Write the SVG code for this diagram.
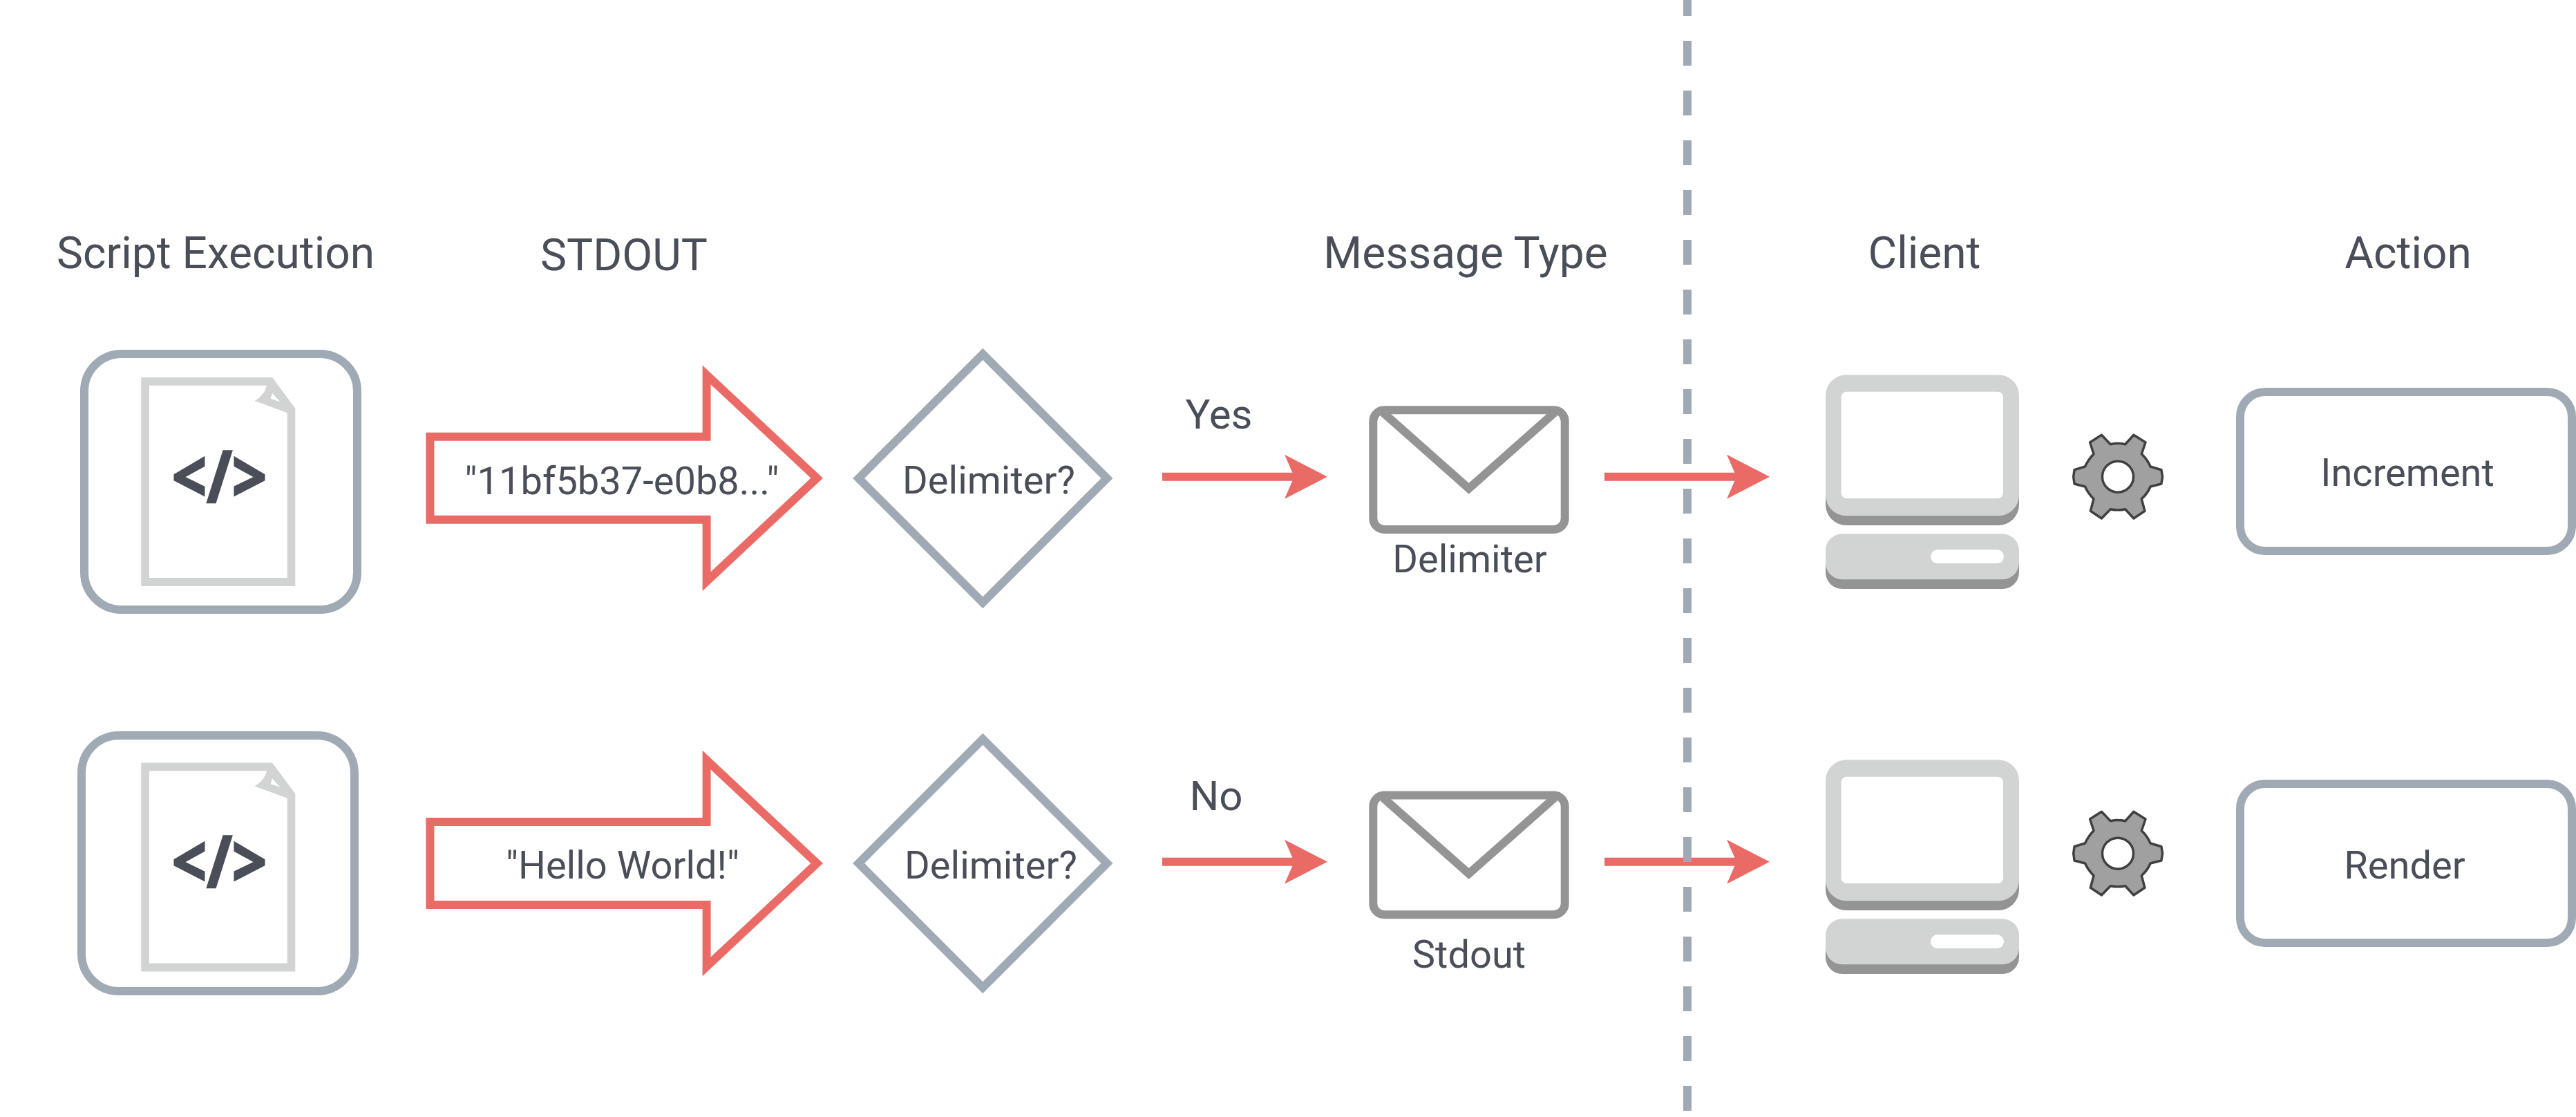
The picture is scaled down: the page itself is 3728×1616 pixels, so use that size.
<svg xmlns="http://www.w3.org/2000/svg" xmlns:xlink="http://www.w3.org/1999/xlink" width="3728" height="1616" viewBox="0 0 3728 1616">
<style>
text{font-family:Roboto,"Liberation Sans",sans-serif;fill:#4a4e58;text-anchor:middle}
.h{font-size:64px}
.t{font-size:56px}
.l{font-size:60px}
.code{font-family:"Open Sans",sans-serif;font-size:104px;font-weight:700;stroke:#4a4e58;stroke-width:2.500}
.box{fill:#fff;stroke:#a0aab4;stroke-width:12}
.flow{fill:none;stroke:#ea6b66;stroke-width:12;stroke-miterlimit:20}
.lt{fill:#d2d4d4}
.dk{fill:#949494}
.wh{fill:#fff}
.conn{stroke:#ea6b66;stroke-width:12;fill:none}
</style>
<defs>
<marker id="head" markerUnits="userSpaceOnUse" viewBox="0 0 62 64" refX="14" refY="32" markerWidth="62" markerHeight="64" orient="auto"><path d="M0 0L62 32L0 64L14 32Z" fill="#ea6b66"/></marker>
<g id="doc">
<path class="lt" fill-rule="evenodd" d="M204.3 546H394L427.3 590.7V848H204.3ZM216 557.7V836H415.700V597.300L368.700 580Q384 570 386 557.700ZM394 568.700L391.700 576.700L405.300 581.300Z"/>
</g>
<g id="env">
<rect x="1987.300" y="593.300" width="277.400" height="172.700" rx="16" fill="#fff" stroke="#949494" stroke-width="12"/>
<path d="M2001.700 597L2125.700 706.700L2249.700 597" fill="none" stroke="#949494" stroke-width="12"/>
</g>
<g id="pc">
<rect class="dk" x="2642" y="556" width="280" height="204" rx="30"/>
<rect class="lt" x="2642" y="542.300" width="280" height="204" rx="30"/>
<rect class="wh" x="2664.600" y="566.700" width="234.400" height="154.300" rx="8"/>
<rect class="dk" x="2642" y="786" width="280" height="66" rx="24"/>
<rect class="lt" x="2642" y="772.300" width="280" height="66" rx="24"/>
<rect class="wh" x="2794" y="795.300" width="106" height="19.700" rx="9.800"/>
</g>
<g id="gear">
<path fill="#a0a0a0" stroke="#404040" stroke-width="3.500" stroke-linejoin="round" fill-rule="evenodd" d="M3127.900 679.700L3129.600 689.700L3127.900 700L3112.100 704Q3108 714 3099.300 721.700L3103.900 739.300L3087.900 750L3075.700 736.700Q3065 739 3054.300 736.700L3041.400 750L3025.400 739.300L3030 721.700Q3022 714 3017.500 704L3002.100 700L3000.700 689.700L3002.100 679.700L3017.500 675Q3022 665 3030 656.700L3024.600 640L3041.400 629.300L3054.300 642.700Q3065 640.500 3075.700 642.700L3087.900 629.300L3105 640L3099.300 656.700Q3108 665 3112.100 675ZM3087.500 689.700A22.500 22.500 0 1 0 3042.500 689.700A22.500 22.500 0 1 0 3087.500 689.700Z"/>
</g>
</defs>
<rect width="3728" height="1616" fill="#fff"/>

<g id="headers">
<text class="h" x="312" y="388">Script Execution</text>
<text class="h" x="903" y="391">STDOUT</text>
<text class="h" x="2121" y="388">Message Type</text>
<text class="h" x="2785" y="388">Client</text>
<text class="h" x="3485" y="388">Action</text>
</g>

<g id="connectors">
<line class="conn" x1="1682" y1="689.700" x2="1873" y2="689.700" marker-end="url(#head)"/>
<line class="conn" x1="2322" y1="689.700" x2="2513" y2="689.700" marker-end="url(#head)"/>
<line class="conn" x1="1682" y1="1246.800" x2="1873" y2="1246.800" marker-end="url(#head)"/>
<line class="conn" x1="2322" y1="1246.800" x2="2513" y2="1246.800" marker-end="url(#head)"/>
<text class="l" x="1764" y="620">Yes</text>
<text class="l" x="1760" y="1172">No</text>
<line x1="2442" y1="-13" x2="2442" y2="1616" stroke="#a0aab4" stroke-width="12" stroke-dasharray="36 36"/>
</g>

<g id="script1">
<rect class="box" x="122" y="512" width="395" height="370" rx="54"/>
<use xlink:href="#doc" href="#doc"/>
<text class="code" transform="translate(317.500 727) scale(.85 1)">&lt;/&gt;</text>
</g>
<g id="script2">
<rect class="box" x="118" y="1064" width="395" height="370" rx="54"/>
<use xlink:href="#doc" href="#doc" y="557.500"/>
<text class="code" transform="translate(317.500 1284) scale(.85 1)">&lt;/&gt;</text>
</g>

<g id="stdout1">
<polygon class="flow" points="622.400,631.700 1022.600,631.700 1022.600,542.300 1182.200,691.700 1022.600,841.100 1022.600,751.700 622.400,751.700"/>
<text class="t" x="900" y="715">"11bf5b37-e0b8..."</text>
</g>
<g id="stdout2">
<polygon class="flow" points="622.400,1189 1022.600,1189 1022.600,1099.600 1182.200,1249 1022.600,1398.400 1022.600,1309 622.400,1309"/>
<text class="t" x="901" y="1271">"Hello World!"</text>
</g>

<g id="decision1">
<polygon class="box" points="1422.300,512.300 1602,692 1422.300,871.700 1242.600,692"/>
<text class="t" x="1431" y="714">Delimiter?</text>
</g>
<g id="decision2">
<polygon class="box" points="1422.300,1069.300 1602,1249 1422.300,1428.700 1242.600,1249"/>
<text class="t" x="1434" y="1271">Delimiter?</text>
</g>

<g id="message1">
<use xlink:href="#env" href="#env"/>
<text class="t" x="2127" y="828">Delimiter</text>
</g>
<g id="message2">
<use xlink:href="#env" href="#env" y="557.300"/>
<text class="t" x="2126" y="1400">Stdout</text>
</g>

<g id="client1"><use xlink:href="#pc" href="#pc"/></g>
<g id="client2"><use xlink:href="#pc" href="#pc" y="557"/></g>
<g id="gear1"><use xlink:href="#gear" href="#gear"/></g>
<g id="gear2"><use xlink:href="#gear" href="#gear" y="545"/></g>

<g id="action1">
<rect class="box" x="3242" y="567" width="480" height="230" rx="36"/>
<text class="t" x="3484" y="703">Increment</text>
</g>
<g id="action2">
<rect class="box" x="3242" y="1134" width="480" height="230" rx="36"/>
<text class="t" x="3480" y="1271">Render</text>
</g>
</svg>
